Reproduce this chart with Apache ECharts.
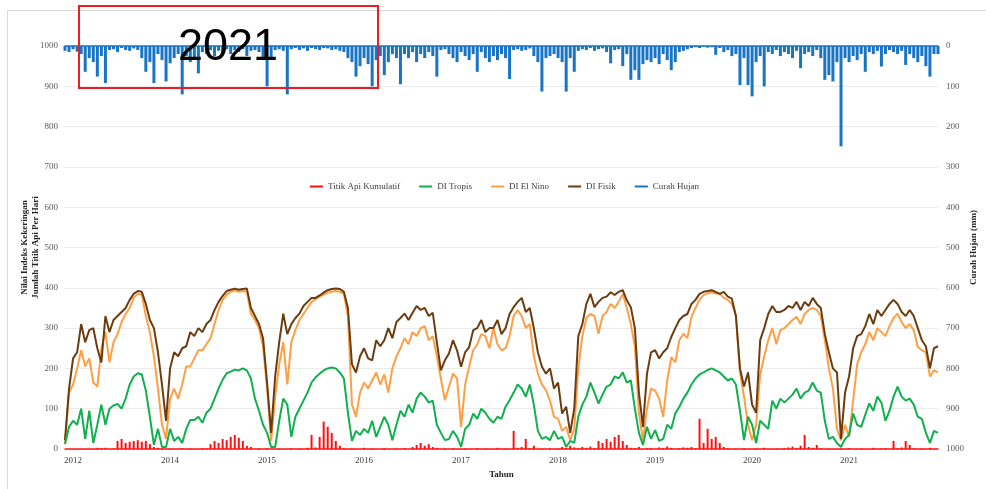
<!DOCTYPE html>
<html>
<head>
<meta charset="utf-8">
<script src="https://cdn.jsdelivr.net/npm/echarts@6/dist/echarts.min.js"></script>
<style>
html,body{margin:0;padding:0;background:#fff;}
#main{width:986px;height:489px;}
</style>
</head>
<body>
<div id="main"></div>
<script>
// tick labels on the x axis and the sample index where each one sits
var yearLabels = ['2012','2014','2015','2016','2017','2018','2019','2020','2021'];
var yearIndex  = [2, 26, 50, 74, 98, 122, 146, 170, 194];

// half-monthly samples
var titikApi = [0,0,0,0,0,0,0,0, 3,2,3, 0,1,
  20,25,15,18,20,22,18,20,12, 5,3,2,
  0,1,0,0,2,0,1,0,0,2,1,
  12,20,15,25,22,30,35,28,20,8, 5,
  0,1,0,2,0,0,1,0,0,2,0,1,0,3, 35, 4,
  30,68,55,40,20, 8,
  2,0,1,0,0,3,0,1,0,0,2,0,0,1,0,2,0,
  5,10,15,8,12,5,3,
  0,1,0,2,0,0,1,0,0,2,0,1,0,0,3,0,1,0,
  45, 3,5, 25, 2, 8,
  0,1,0,2,0,1,
  5,3,8,4,2,5,3,6,2,
  20,15,25,18,30,35,20,10,
  3,2,5,0,2,3,0,4,2,6,3,0,2,4,3,5,2,
  75, 15, 50, 25,30,15,
  5,2,0,1,0,2,0,0,1,0,3,0,0,1,0,2,4,6,3,8,
  35, 5,3, 10,
  2,0,1,0,0,1,0,2,0,0,1,0,0,3,0,1,2,0,
  20, 2,4, 20, 10,
  2,0,1,0,3,0,0];

var diTropis = [12,55,70,60,100,25,95,15,60,110,60,100,108,112,100,125,160,180,188,185,145,80,10,50,5,5,50,20,30,15,50,72,72,80,65,90,100,125,150,172,188,192,197,
  195,200,195,175,125,95,60,40,5,5,70,125,110,30,80,100,120,140,165,178,187,195,200,202,200,190,175,90,20,45,35,50,40,70,30,55,80,60,22,60,95,80,110,90,
  125,140,130,115,120,60,40,22,25,45,30,5,50,60,88,75,100,90,75,65,80,75,105,121,140,160,150,130,160,110,45,25,30,22,45,25,30,5,20,15,80,110,130,
  165,140,113,135,155,160,180,175,190,165,170,100,40,10,55,25,47,20,25,60,50,88,105,125,140,160,175,185,190,196,200,195,190,180,170,175,160,95,22,80,60,15,
  70,60,50,120,100,125,115,125,135,150,125,140,145,165,145,140,70,25,30,15,5,25,35,88,60,55,85,113,95,130,115,70,95,130,155,130,120,125,110,80,75,40,15,45,40];

var diElNino = [15,140,160,200,245,205,225,165,155,250,290,215,265,285,315,335,350,375,385,383,330,290,230,150,60,25,125,150,125,160,205,205,225,245,245,260,275,310,345,370,383,390,394,
  390,392,390,335,320,300,255,150,20,130,210,265,160,265,295,320,335,350,365,372,378,383,388,390,392,390,385,330,110,80,140,165,150,170,190,160,185,140,200,230,250,275,260,290,
  280,300,305,270,280,230,175,121,154,187,175,55,160,205,245,260,285,280,250,300,260,245,250,280,330,345,330,300,310,230,187,160,146,120,80,75,45,55,22,50,200,280,325,
  335,330,286,330,340,360,350,365,385,350,310,255,90,22,100,150,145,125,80,170,228,215,270,286,275,328,350,370,382,386,389,386,385,375,370,360,330,190,130,60,22,60,
  185,230,270,300,260,295,300,310,320,328,310,335,345,350,345,330,270,200,150,50,22,60,30,120,210,240,260,290,270,300,290,280,305,325,336,315,300,310,295,253,245,240,180,195,190];

var diFisik = [22,150,225,240,310,265,295,300,250,215,330,290,320,330,340,350,370,385,392,390,360,320,300,240,160,70,200,240,230,250,255,290,280,300,290,310,320,345,365,380,392,395,398,
  395,397,398,350,330,310,275,165,40,180,265,336,285,310,325,336,355,365,375,375,381,388,394,397,398,397,390,350,210,190,230,250,225,220,270,255,270,300,275,315,325,336,320,338,
  355,345,350,330,338,265,195,220,237,270,245,204,240,253,295,300,320,290,300,300,320,285,300,335,352,365,375,340,350,300,240,204,187,200,150,165,88,105,40,100,280,310,360,
  385,352,365,375,378,389,382,390,394,369,352,300,140,55,187,240,245,225,240,250,278,300,320,330,335,360,370,385,390,392,394,390,385,390,378,373,330,200,155,190,110,90,
  270,300,335,355,340,340,345,355,350,365,345,365,355,375,360,350,285,240,200,190,25,140,180,250,280,285,305,335,310,345,330,345,360,370,360,340,330,345,330,300,270,255,200,250,255];

var curahHujan = [12,15,8,14,20,64,30,40,76,25,
  92,10,8,15,5,10,12,6,10,30,
  64,40,92,20,35,88,43,30,20,120,
  25,40,30,68,15,20,10,25,12,18,
  8,20,10,15,8,25,12,10,15,35,
  100,30,10,8,12,120,8,5,10,6,
  12,5,8,10,5,6,10,8,12,15,
  30,40,76,50,30,45,100,35,25,72,
  40,20,30,95,20,30,15,40,20,30,
  15,25,76,10,8,20,30,40,15,25,
  35,20,64,15,30,40,25,35,20,30,
  82,10,8,12,10,6,25,40,113,30,
  25,20,30,40,113,30,64,12,8,10,
  5,12,8,6,15,43,10,8,50,20,
  84,60,84,45,35,40,30,45,20,35,
  60,40,15,12,8,5,3,5,2,4,
  3,22,5,15,10,25,20,97,30,97,
  125,40,25,100,15,20,10,25,15,20,
  30,12,55,20,15,25,10,30,84,72,
  88,40,249,30,40,25,35,20,64,15,
  20,12,51,20,10,15,20,12,47,20,
  30,40,25,50,76,20,20];

var days = [];
for (var i = 0; i < diFisik.length; i++) days.push(String(i));

var serif = '"Liberation Serif", "Times New Roman", serif';
var plain = function (v) { return String(v); };

var myChart = echarts.init(document.getElementById('main'));
var option = {
    animation: false,
    backgroundColor: '#fff',
    grid: { left: 65, right: 41, top: 46, bottom: 40 },
    legend: {
        left: 305,
        top: 177,
        icon: 'rect',
        itemWidth: 13,
        itemHeight: 2,
        itemGap: 19,
        textStyle: { fontFamily: serif, fontSize: 9, color: '#404040' },
        data: ['Titik Api Kumulatif', 'DI Tropis', 'DI El Nino', 'DI Fisik', 'Curah Hujan']
    },
    xAxis: [
        {
            type: 'category',
            data: days,
            boundaryGap: false,
            name: 'Tahun',
            nameLocation: 'middle',
            nameGap: 15,
            nameTextStyle: { fontFamily: serif, fontSize: 9, fontWeight: 'bold', color: '#222' },
            axisLine: { lineStyle: { color: '#ff1010', width: 1.5 } },
            axisTick: { show: false },
            axisLabel: {
                margin: 7,
                fontFamily: serif, fontSize: 9, color: '#404040',
                interval: function (idx) { return yearIndex.indexOf(idx) >= 0; },
                formatter: function (v, idx) {
                    var k = yearIndex.indexOf(idx);
                    return k >= 0 ? yearLabels[k] : '';
                }
            },
            splitLine: { show: false }
        },
        {
            type: 'category',
            data: days,
            position: 'top',
            boundaryGap: false,
            axisLine: { lineStyle: { color: '#1874c4', width: 1.5 } },
            axisTick: { show: false },
            axisLabel: { show: false },
            splitLine: { show: false }
        }
    ],
    yAxis: [
        {
            type: 'value',
            min: 0, max: 1000, interval: 100,
            name: 'Nilai Indeks Kekeringan\nJumlah Titik Api Per Hari',
            nameLocation: 'middle',
            nameGap: 24,
            nameMoveOverlap: false,
            nameTextStyle: { fontFamily: serif, fontSize: 9, fontWeight: 'bold', color: '#222', lineHeight: 11 },
            axisLine: { show: false },
            axisTick: { show: false },
            axisLabel: { margin: 7, fontFamily: serif, fontSize: 9, color: '#595959', formatter: plain },
            splitLine: { lineStyle: { color: '#ebebeb', width: 1 } }
        },
        {
            type: 'value',
            position: 'right',
            inverse: true,
            min: 0, max: 1000, interval: 100,
            name: 'Curah Hujan (mm)',
            nameLocation: 'middle',
            nameRotate: 90,
            nameGap: 31,
            nameMoveOverlap: false,
            nameTextStyle: { fontFamily: serif, fontSize: 9, fontWeight: 'bold', color: '#222' },
            axisLine: { show: false },
            axisTick: { show: false },
            axisLabel: { margin: 8, fontFamily: serif, fontSize: 9, color: '#595959', formatter: plain },
            splitLine: { show: false }
        }
    ],
    series: [
        {
            name: 'Curah Hujan', type: 'bar', xAxisIndex: 1, yAxisIndex: 1,
            data: curahHujan, barWidth: 3, color: '#1874c4'
        },
        {
            name: 'DI El Nino', type: 'line', data: diElNino, symbol: 'none',
            color: '#ff9f45', lineStyle: { width: 2, color: '#ff9f45' }
        },
        {
            name: 'DI Fisik', type: 'line', data: diFisik, symbol: 'none',
            color: '#6b3c10', lineStyle: { width: 2, color: '#6b3c10' }
        },
        {
            name: 'DI Tropis', type: 'line', data: diTropis, symbol: 'none',
            color: '#10b04e', lineStyle: { width: 2, color: '#10b04e' }
        },
        {
            name: 'Titik Api Kumulatif', type: 'bar', data: titikApi, barWidth: 2,
            color: '#ff1010'
        }
    ],
    graphic: [
        {
            type: 'rect', z: -10, silent: true,
            shape: { x: 7.5, y: 10.5, width: 1000, height: 500 },
            style: { fill: 'none', stroke: '#d9d9d9', lineWidth: 1 }
        },
        {
            type: 'rect', z: 100, silent: true,
            shape: { x: 79, y: 6, width: 299, height: 82 },
            style: { fill: 'none', stroke: '#ee1c25', lineWidth: 2 }
        },
        {
            type: 'text', z: 101, silent: true, x: 228, y: 48,
            style: { text: '2021', font: '45px "Liberation Sans", Arial, sans-serif', fill: '#000', align: 'center', verticalAlign: 'middle' }
        }
    ]
};
myChart.setOption(option);
</script>
</body>
</html>
